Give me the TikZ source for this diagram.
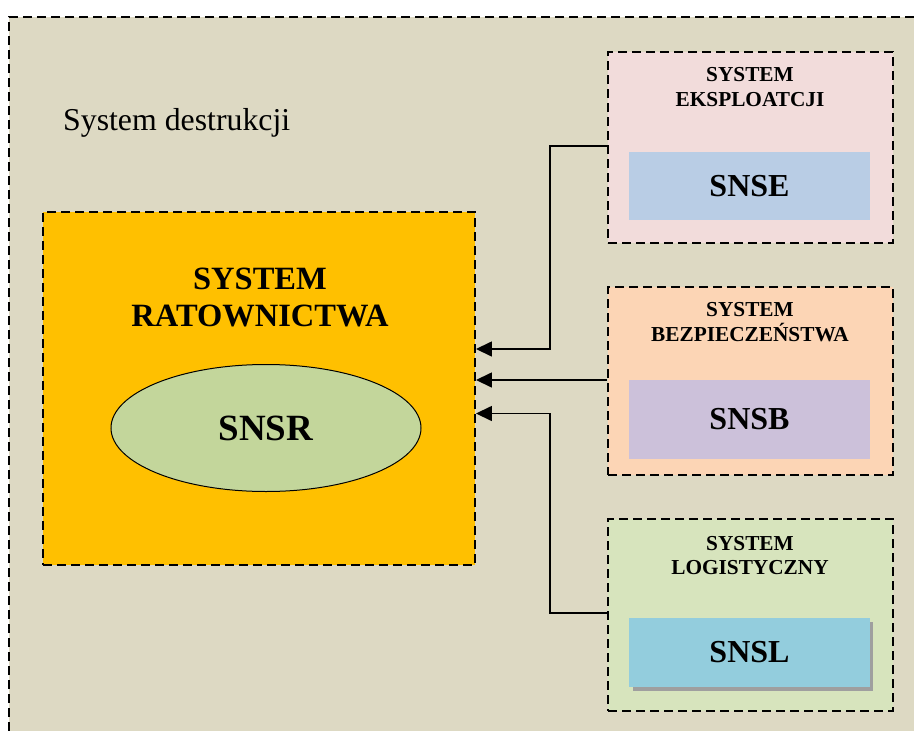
\documentclass[tikz,border=0pt]{standalone}
\usepackage{fontspec}
\setmainfont{Liberation Serif}
\usetikzlibrary{arrows.meta,shapes.geometric,calc}
\definecolor{bgsand}{HTML}{DDD9C3}
\definecolor{ratorange}{HTML}{FFC000}
\definecolor{ellgreen}{HTML}{C3D69B}
\definecolor{pinkbox}{HTML}{F2DCDB}
\definecolor{peachbox}{HTML}{FCD5B5}
\definecolor{greenbox}{HTML}{D7E4BD}
\definecolor{snseblue}{HTML}{B9CDE5}
\definecolor{snsbviolet}{HTML}{CCC1DA}
\definecolor{snslcyan}{HTML}{93CDDD}
\tikzset{
  dashbox/.style={draw=black, line width=1.9pt, dash pattern=on 9pt off 5pt, rectangle, inner sep=0pt},
  sysbox/.style={dashbox, minimum width=285pt, minimum height=190pt},
  innerbox/.style={rectangle, inner sep=0pt, minimum width=241pt, font=\fontsize{32}{36}\selectfont\bfseries},
  titletext/.style={align=center, font=\fontsize{21.3}{24.5}\selectfont\bfseries, inner sep=0pt},
  conn/.style={draw=black, line width=1.5pt},
  arr/.style={conn, -{Triangle[length=16pt,width=15pt]}},
}
\begin{document}
\begin{tikzpicture}[x=1pt,y=-1pt]
\useasboundingbox (0,0) rectangle (914,731);
% outer area
\fill[bgsand] (9,17) rectangle (914,731);
\draw[line width=1.9pt, dash pattern=on 9pt off 5pt] (9,731) -- (9,17) -- (914,17);
\node[anchor=base west, font=\fontsize{31.8}{36}\selectfont, inner sep=0pt] (dest) at (63,130) {System destrukcji};

% rescue system
\node[dashbox, fill=ratorange, minimum width=432pt, minimum height=353pt] (rat) at (259,388.5) {};
\node[align=center, font=\fontsize{32.5}{37}\selectfont\bfseries, inner sep=0pt] (rattitle) at (260,297) {SYSTEM\\RATOWNICTWA};
\node[ellipse, draw=black, line width=1pt, fill=ellgreen, minimum width=310pt, minimum height=127pt, inner sep=0pt, font=\fontsize{37}{40}\selectfont\bfseries] (snsr) at (266,428) {SNSR};

% system boxes
\node[sysbox, fill=pinkbox, minimum height=191pt] (b1) at (750.5,147.5) {};
\node[titletext] (t1) at (750,87) {SYSTEM\\EKSPLOATCJI};
\node[innerbox, fill=snseblue, minimum height=68pt] (snse) at (749.5,186) {SNSE};

\node[sysbox, fill=peachbox, minimum height=188pt] (b2) at (750.5,381) {};
\node[titletext] (t2) at (750,322) {SYSTEM\\BEZPIECZEŃSTWA};
\node[innerbox, fill=snsbviolet, minimum height=79pt] (snsb) at (749.5,419.5) {SNSB};

\node[sysbox, fill=greenbox, minimum height=192pt] (b3) at (750.5,615) {};
\node[titletext] (t3) at (750,555.5) {SYSTEM\\LOGISTYCZNY};
\fill[gray!75] (633,622) rectangle (873,691);
\node[innerbox, fill=snslcyan, minimum height=69pt] (snsl) at (749.5,652.5) {SNSL};

% connectors
\coordinate (k1) at (550,146);
\coordinate (k3) at (550,613);
\draw[arr] ([yshift=1.5pt]b1.west) -- (k1) |- ([yshift=39.5pt]rat.east);
\draw[arr] ([yshift=1pt]b2.west) -- ([yshift=1pt]b2.west -| rat.east);
\draw[arr] ([yshift=2pt]b3.west) -- (k3) |- ([yshift=-25pt]rat.east);
\end{tikzpicture}
\end{document}
